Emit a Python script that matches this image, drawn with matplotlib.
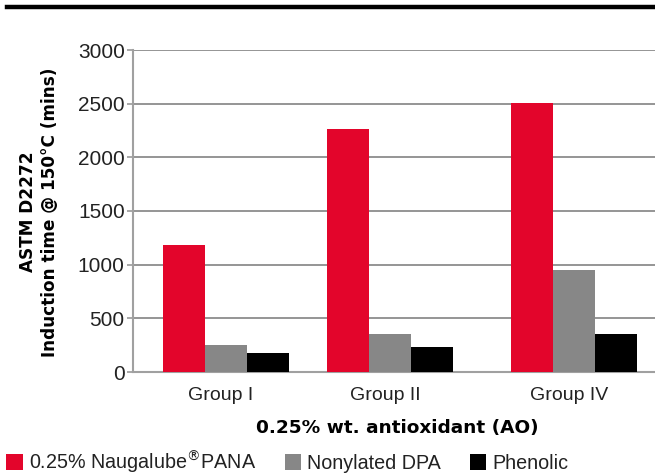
import numpy as np
import matplotlib.pyplot as plt
from matplotlib.patches import Patch
from matplotlib.lines import Line2D

groups = ['Group I', 'Group II', 'Group IV']
series = ['0.25% Naugalube$^{\u00ae}$PANA', 'Nonylated DPA', 'Phenolic']
pana = [1180, 2265, 2505]
dpa = [250, 350, 950]
phenolic = [175, 230, 350]
yticks = [0, 500, 1000, 1500, 2000, 2500, 3000]

colors = ['#E3052B', '#878787', '#000000']
font = ['Liberation Sans', 'DejaVu Sans']
txt = '#222222'

W, H = 655, 475
fig = plt.figure(figsize=(W / 100, H / 100), dpi=100)
ax = fig.add_axes([133 / W, 1 - 372 / H, (W - 133) / W, (372 - 50) / H])

# group centres in pixel-like units, axis spans 133..655
group_x = np.array([226, 390, 574])
bw = 42
for i, (vals, c) in enumerate(zip([pana, dpa, phenolic], colors)):
    ax.bar(group_x + (i - 1) * bw, vals, width=bw, color=c, zorder=3, linewidth=0)

ax.set_xlim(133, 655)
ax.set_ylim(0, 3000)
ax.set_yticks(yticks)
ax.set_yticklabels([str(t) for t in yticks], fontsize=15, family=font, color=txt)
ax.set_xticks(group_x - 5)
ax.set_xticklabels(groups, fontsize=14, family=font, color=txt)
ax.tick_params(axis='x', length=0, pad=11)
ax.tick_params(axis='y', length=4, width=1.2, color='#999999', pad=2)
ax.yaxis.grid(True, color='#8c8c8c', linewidth=1.3, zorder=0)
for s in ['top', 'right']:
    ax.spines[s].set_visible(False)
for s in ['left', 'bottom']:
    ax.spines[s].set_color('#a0a0a0')
    ax.spines[s].set_linewidth(1.5)

fig.text(39 / W, 1 - 212 / H, 'ASTM D2272\nInduction time @ 150\u00b0C (mins)',
         rotation=90, ha='center', va='center', fontsize=12.2, fontweight='bold',
         family='DejaVu Sans', linespacing=1.3, color='black')
fig.text(397 / W, 1 - 428 / H, '0.25% wt. antioxidant (AO)', ha='center', va='center',
         fontsize=13.3, fontweight='bold', family='DejaVu Sans', color='black')

# thick rule at the top
fig.add_artist(Line2D([7 / W, 1], [1 - 7 / H, 1 - 7 / H], color='black', linewidth=3.2))

handles = [Patch(facecolor=c, edgecolor='none') for c in colors]
leg = fig.legend(handles, series, loc='center left', bbox_to_anchor=(0.0, 1 - 462 / H),
                 ncol=3, frameon=False, handlelength=0.85, handleheight=0.85,
                 handletextpad=0.3, columnspacing=1.45, borderaxespad=0, borderpad=0.3,
                 prop={'family': font, 'size': 14.2})
for t in leg.get_texts():
    t.set_color(txt)

fig.savefig('out.png', dpi=100)
